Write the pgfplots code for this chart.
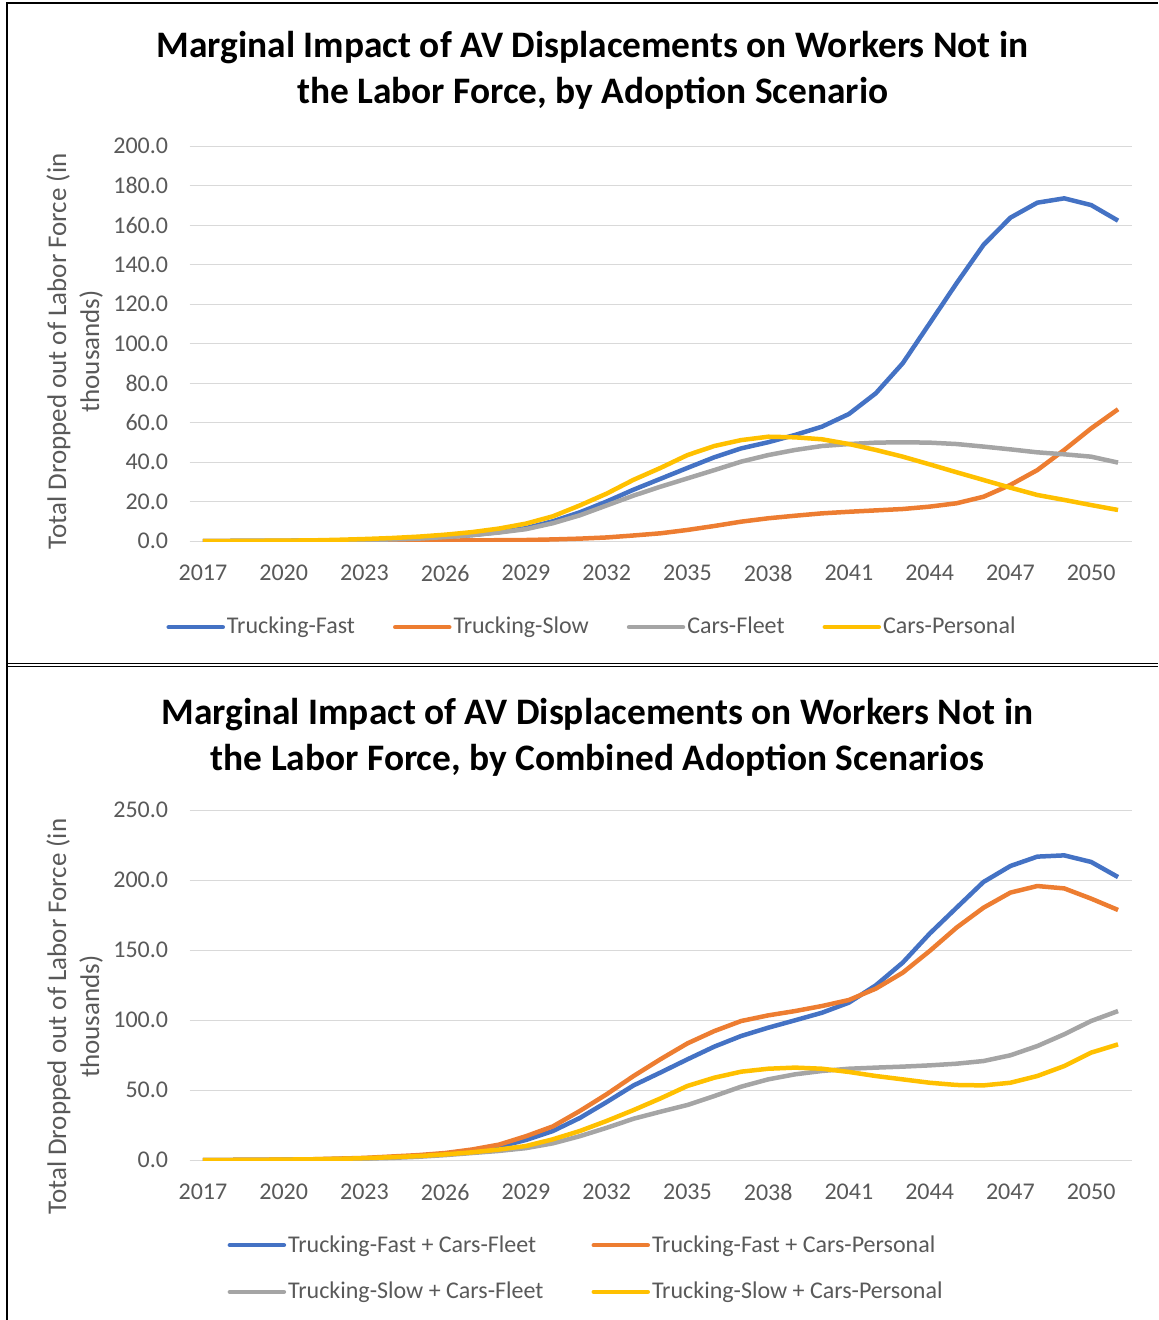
\documentclass[border=0pt]{standalone}
\usepackage{pgfplots}
\pgfplotsset{compat=1.18}
\usepackage{pgfplotstable}
\usepackage{fontspec}
\setmainfont{Carlito}

\definecolor{cblue}{HTML}{4472C4}
\definecolor{corange}{HTML}{ED7D31}
\definecolor{cgray}{HTML}{A5A5A5}
\definecolor{cyellow}{HTML}{FFC000}
\definecolor{gridgray}{HTML}{D9D9D9}
\definecolor{textgray}{HTML}{595959}

% adoption scenarios, thousands of workers
\pgfplotstableread{
year  tf     ts    cf    cp
2017  0.0    0.0   0.0   0.0
2018  0.0    0.0   0.0   0.0
2019  0.1    0.0   0.1   0.1
2020  0.1    0.0   0.1   0.2
2021  0.2    0.0   0.2   0.3
2022  0.3    0.1   0.3   0.6
2023  0.5    0.1   0.5   1.0
2024  0.8    0.1   0.8   1.5
2025  1.2    0.2   1.2   2.2
2026  2.0    0.2   2.0   3.2
2027  3.0    0.3   3.0   4.5
2028  4.5    0.4   4.3   6.3
2029  6.5    0.5   6.0   8.8
2030  10.0   0.8   9.0   12.5
2031  14.5   1.2   13.0  18.0
2032  20.0   1.8   18.0  24.0
2033  26.0   2.8   23.0  31.0
2034  31.5   3.9   27.5  37.0
2035  37.0   5.6   31.7  43.5
2036  42.4   7.6   35.9  48.1
2037  46.9   9.8   40.2  51.1
2038  50.0   11.5  43.5  52.8
2039  53.7   12.8  46.1  52.5
2040  57.9   14.0  48.1  51.5
2041  64.3   14.8  49.1  49.1
2042  74.8   15.5  49.8  46.1
2043  90.0   16.2  50.0  42.7
2044  110.2  17.4  49.8  38.8
2045  130.5  19.1  49.1  34.8
2046  149.9  22.4  47.8  30.9
2047  163.7  28.4  46.4  27.0
2048  171.3  35.9  44.9  23.3
2049  173.5  46.1  43.9  20.8
2050  170.1  57.0  42.7  18.2
2051  162.2  66.7  39.7  15.7
}\single

% combined scenarios
\pgfplotstableread{
year  tfcf   tfcp   tscf   tscp
2017  0.0    0.0    0.0    0.0
2018  0.0    0.0    0.0    0.0
2019  0.1    0.1    0.1    0.1
2020  0.2    0.3    0.2    0.3
2021  0.4    0.5    0.4    0.5
2022  0.7    1.0    0.6    0.8
2023  1.2    1.5    1.0    1.3
2024  2.0    2.5    1.5    2.0
2025  3.0    3.5    2.3    2.8
2026  4.5    5.0    3.5    4.0
2027  6.5    7.5    5.0    5.5
2028  9.5    11.0   6.5    7.5
2029  14.3   17.0   8.5    10.0
2030  20.7   24.0   11.9   14.8
2031  30.0   35.0   17.0   20.7
2032  41.4   47.0   23.0   27.9
2033  53.3   60.0   29.5   35.7
2034  62.5   72.0   34.5   44.0
2035  71.9   83.3   39.3   52.9
2036  81.0   92.1   45.7   58.8
2037  88.6   99.3   52.4   63.1
2038  94.5   103.3  57.6   65.2
2039  99.8   106.4  61.2   66.0
2040  105.2  110.0  63.6   65.2
2041  112.4  114.3  65.2   62.9
2042  124.8  122.4  66.0   60.0
2043  141.0  133.8  66.7   57.6
2044  161.7  149.3  67.6   55.2
2045  180.2  166.0  68.8   53.6
2046  198.6  180.2  70.7   53.3
2047  210.0  191.0  74.8   55.2
2048  216.7  195.7  81.4   60.0
2049  217.6  194.0  89.8   67.1
2050  212.9  186.7  99.3   76.7
2051  202.1  178.6  106.4  82.6
}\combined

\pgfplotsset{
  avchart/.style={
    scale only axis,
    width=471pt,
    xmin=2016.5, xmax=2051.5,
    ymin=0,
    axis x line*=bottom,
    axis y line*=left,
    x axis line style={gridgray, line width=0.5pt},
    y axis line style={draw=none},
    ymajorgrids,
    grid style={gridgray, line width=0.5pt},
    major tick length=0pt,
    xtick={2017,2020,...,2050},
    xticklabel style={inner sep=0pt, yshift=-12pt, text=textgray, font=\fontsize{12}{14}\selectfont,
      /pgf/number format/1000 sep={}},
    yticklabel style={inner sep=0pt, xshift=-10.5pt, text=textgray, font=\fontsize{12}{14}\selectfont,
      /pgf/number format/fixed, /pgf/number format/fixed zerofill, /pgf/number format/precision=1},
    /pgf/number format/assume math mode=true,
    ylabel style={align=center, text=textgray, font=\fontsize{13.5}{16.5}\selectfont, anchor=center},
    title style={align=center, font=\bfseries\fontsize{18.7}{23}\selectfont, anchor=center},
    legend style={draw=none, fill=none, font=\fontsize{12}{14}\selectfont, text=textgray,
      nodes={inner sep=1pt, anchor=west},
      /tikz/every odd column/.append style={column sep=0pt}},
    legend image code/.code={\draw[#1, line cap=round] (0pt,0pt) -- (27pt,0pt);},
    every axis plot/.append style={line width=2.25pt, line join=round, no marks},
  },
}

\begin{document}
\begin{tikzpicture}
\path[use as bounding box] (0,0) rectangle (579pt,-660pt);
\draw[line width=0.8pt] (3.5pt,-660pt) -- (3.5pt,-1.5pt) -- (579pt,-1.5pt);
\draw[line width=0.8pt] (3.5pt,-331.7pt) -- (579pt,-331.7pt);
\draw[line width=0.8pt] (3.5pt,-333.3pt) -- (579pt,-333.3pt);

\begin{axis}[avchart,
  at={(94.75pt,-270.5pt)}, anchor=south west,
  height=197.5pt,
  ymax=200, ytick={0,20,...,200},
  title={Marginal Impact of AV Displacements on Workers Not in\\the Labor Force, by Adoption Scenario},
  title style={at={(axis description cs:0.428,1.16)}},
  ylabel={Total Dropped out of Labor Force (in\\thousands)},
  ylabel style={at={(axis description cs:-0.122,0.48)}},
  legend columns=4,
  legend style={at={(axis description cs:0.4273,-0.218)}, anchor=center,
    /tikz/every even column/.append style={column sep=18pt}},
]
\addplot[cblue]   table[x=year, y=tf] {\single};
\addplot[corange] table[x=year, y=ts] {\single};
\addplot[cgray]   table[x=year, y=cf] {\single};
\addplot[cyellow] table[x=year, y=cp] {\single};
\legend{Trucking-Fast, Trucking-Slow, Cars-Fleet, Cars-Personal}
\end{axis}

\begin{axis}[avchart,
  at={(94.75pt,-580pt)}, anchor=south west,
  height=175pt,
  ymax=250, ytick={0,50,...,250},
  title={Marginal Impact of AV Displacements on Workers Not in\\the Labor Force, by Combined Adoption Scenarios},
  title style={at={(axis description cs:0.433,1.174)}},
  ylabel={Total Dropped out of Labor Force (in\\thousands)},
  ylabel style={at={(axis description cs:-0.122,0.41)}},
  legend columns=2,
  legend style={at={(axis description cs:0.421,-0.31)}, anchor=center, row sep=11.5pt,
    /tikz/every even column/.append style={column sep=23pt}},
]
\addplot[cblue]   table[x=year, y=tfcf] {\combined};
\addplot[corange] table[x=year, y=tfcp] {\combined};
\addplot[cgray]   table[x=year, y=tscf] {\combined};
\addplot[cyellow] table[x=year, y=tscp] {\combined};
\legend{Trucking-Fast + Cars-Fleet, Trucking-Fast + Cars-Personal,
  Trucking-Slow + Cars-Fleet, Trucking-Slow + Cars-Personal}
\end{axis}
\end{tikzpicture}
\end{document}
